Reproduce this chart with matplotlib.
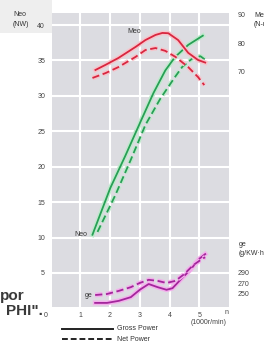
import matplotlib
matplotlib.use("Agg")
import matplotlib.pyplot as plt
import matplotlib.patheffects as pe
from matplotlib.lines import Line2D
from matplotlib.patches import Rectangle

# ---------------- data ----------------
x_ticks = [1, 2, 3, 4, 5]
neo_ticks = [5, 10, 15, 20, 25, 30, 35, 40]
meo_ticks = [70, 80, 90]
ge_ticks = [250, 270, 290]

# Gross power Neo (kW)
neo_gross_x = [1.41, 1.70, 2.01, 2.51, 3.02, 3.46, 3.86, 4.19, 4.63, 5.12]
neo_gross_y = [10.4, 13.6, 17.0, 21.5, 26.3, 30.4, 33.6, 35.5, 37.2, 38.5]
# Net power Neo (kW)
neo_net_x = [1.58, 2.18, 2.69, 3.19, 3.69, 4.19, 4.43, 4.80, 5.04, 5.20]
neo_net_y = [10.8, 16.0, 20.9, 25.9, 29.6, 32.7, 34.1, 35.4, 35.6, 35.1]
# Gross torque Meo (N-m)
meo_gross_x = [1.51, 1.85, 2.28, 2.86, 3.19, 3.53, 3.76, 3.96, 4.29, 4.63, 4.96, 5.20]
meo_gross_y = [70.7, 72.5, 74.9, 78.8, 81.2, 83.0, 83.7, 83.6, 81.2, 76.7, 74.2, 73.3]
# Net torque Meo (N-m)
meo_net_x = [1.41, 1.85, 2.28, 2.86, 3.19, 3.53, 3.86, 4.20, 4.63, 4.96, 5.17]
meo_net_y = [67.9, 69.6, 71.7, 75.3, 77.7, 78.4, 77.4, 75.3, 71.7, 68.2, 65.4]
# Fuel consumption ge (g/kW.h)
ge_x = [1.5, 1.9, 2.3, 2.7, 3.0, 3.3, 3.6, 3.9, 4.1, 4.4, 4.7, 5.0, 5.2]
ge_gross_y = [233, 233, 237, 244, 258, 269, 263, 258, 261, 279, 296, 317, 326]
ge_net_x = [1.5, 1.9, 2.3, 2.7, 3.0, 3.3, 3.6, 3.9, 4.2, 4.5, 4.8, 5.1, 5.2]
ge_net_y = [248, 250, 256, 263, 271, 277, 275, 271, 275, 288, 305, 317, 320]

# ---------------- figure ----------------
W, H = 264, 342
fig = plt.figure(figsize=(W / 100, H / 100), dpi=100)
fig.patch.set_facecolor("white")
plt.rcParams["font.family"] = ["Liberation Sans", "DejaVu Sans"]


def fx(x):
    return x / W


def fy(y):
    return 1 - y / H


fig.add_artist(Rectangle((0, fy(33)), fx(52), 33 / H, transform=fig.transFigure,
                         color="#eeeeee", zorder=0, lw=0))

ax = fig.add_axes([fx(52), fy(307), 177 / W, 294 / H])
ax.set_facecolor("#dcdce1")
ax.set_xlim(0.05, 6.0)
ax.set_ylim(0.2, 41.7)
for s in ax.spines.values():
    s.set_visible(False)
ax.set_xticks(x_ticks)
ax.set_yticks(neo_ticks)
ax.grid(True, color="white", lw=1.5)
ax.set_axisbelow(True)
ax.tick_params(axis="both", length=0, labelsize=5, colors="#444444")
ax.tick_params(axis="y", pad=5)
ax.tick_params(axis="x", pad=3.5)

ax2 = ax.twinx()
ax2.set_ylim(-12.5, 90.7)
ax2.set_yticks(meo_ticks)
ax3 = ax.twinx()
ax3.set_ylim(225.2, 785.3)
ax3.set_yticks(ge_ticks)
for a in (ax2, ax3):
    for s in a.spines.values():
        s.set_visible(False)
    a.tick_params(axis="y", length=0, labelsize=5, colors="#444444", pad=6)
    a.patch.set_visible(False)

green = "#27a055"
red = "#d9263f"
mag = "#a4259c"


def halo(c):
    return [pe.Stroke(linewidth=3.4, foreground=c), pe.Normal()]


ax.plot(neo_gross_x, neo_gross_y, color=green, lw=1.3, path_effects=halo("#bfe9cc"))
ax.plot(neo_net_x, neo_net_y, color=green, lw=1.3, dashes=(4, 2), path_effects=halo("#bfe9cc"))
ax2.plot(meo_gross_x, meo_gross_y, color=red, lw=1.3, path_effects=halo("#f6c4cb"))
ax2.plot(meo_net_x, meo_net_y, color=red, lw=1.3, dashes=(4, 2), path_effects=halo("#f6c4cb"))
ax3.plot(ge_x, ge_gross_y, color=mag, lw=1.3, path_effects=halo("#f3b0ec"))
ax3.plot(ge_net_x, ge_net_y, color=mag, lw=1.3, dashes=(4, 2), path_effects=halo("#f3b0ec"))

tc = "#333333"
fs = 5
fig.text(fx(13), fy(15), "Neo", fontsize=fs, color=tc, va="center", ha="left")
fig.text(fx(13), fy(24.5), "(NW)", fontsize=fs, color=tc, va="center", ha="left")
fig.text(fx(46), fy(315.5), "0", fontsize=fs, color="#444444", va="center", ha="center")
fig.text(fx(134), fy(31.5), "Meo", fontsize=fs, color=tc, va="center", ha="center")
fig.text(fx(81), fy(234), "Neo", fontsize=fs, color=tc, va="center", ha="center")
fig.text(fx(88.5), fy(295.5), "ge", fontsize=fs, color=tc, va="center", ha="center")
fig.text(fx(254), fy(15.5), "Meo", fontsize=fs, color=tc, va="center", ha="left")
fig.text(fx(254), fy(24.5), "(N-m)", fontsize=fs, color=tc, va="center", ha="left")
fig.text(fx(239), fy(244.5), "ge", fontsize=fs, color=tc, va="center", ha="left")
fig.text(fx(239), fy(253.5), "(g/KW·h)", fontsize=fs, color=tc, va="center", ha="left")
fig.text(fx(227), fy(312.5), "n", fontsize=fs, color="#444444", va="center", ha="center")
fig.text(fx(209), fy(322), "(1000r/min)", fontsize=fs, color="#444444", va="center", ha="center")

fig.text(fx(25), fy(296), "por", fontsize=11, fontweight="bold", color="#3a3a3a",
         va="center", ha="right")
fig.text(fx(43), fy(311), "PHI\".", fontsize=11, fontweight="bold", color="#3a3a3a",
         va="center", ha="right")

fig.add_artist(Line2D([fx(62), fx(113)], [fy(329), fy(329)], color="#222222", lw=1.4,
                      transform=fig.transFigure))
fig.add_artist(Line2D([fx(62), fx(113)], [fy(339), fy(339)], color="#222222", lw=1.4,
                      dashes=(3, 1.5), transform=fig.transFigure))
fig.text(fx(117), fy(329), "Gross Power", fontsize=fs, color=tc, va="center", ha="left")
fig.text(fx(117), fy(339.5), "Net Power", fontsize=fs, color=tc, va="center", ha="left")

fig.savefig("out.png", dpi=100)
